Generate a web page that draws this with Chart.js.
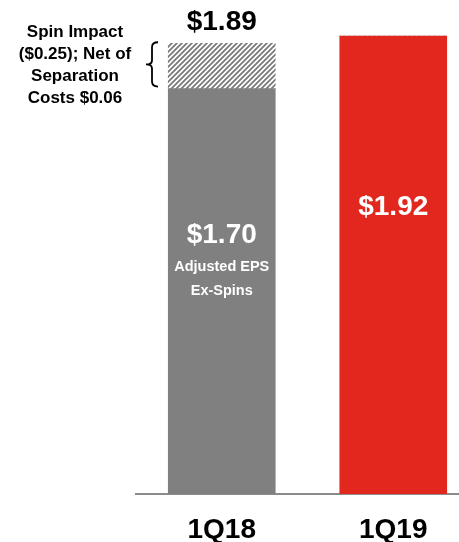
<!DOCTYPE html>
<html>
<head>
<meta charset="utf-8">
<script src="https://cdn.jsdelivr.net/npm/chart.js@4/dist/chart.umd.min.js"></script>
<style>
  html, body { margin:0; padding:0; overflow:hidden; background:#fff; }
  #wrap { width:480px; height:542px; }
</style>
</head>
<body>
<div id="wrap"><canvas id="eps"></canvas></div>
<script>
// values
var quarters = ["1Q18", "1Q19"];
var baseEps = [1.70, 1.92];
var spinNet = [0.19, 0];          // $0.25 spin impact net of $0.06 separation costs
var totalLabels = ["$1.89", ""];
var innerLabels = ["$1.70", "$1.92"];
var noteLines = ["Spin Impact", "($0.25); Net of", "Separation", "Costs $0.06"];
var subLines = ["Adjusted EPS", "Ex-Spins"];

var FONT = "'Liberation Sans', Arial, sans-serif";

function hatch() {
  var c = document.createElement("canvas");
  c.width = 5; c.height = 5;
  var g = c.getContext("2d");
  g.fillStyle = "#fff";
  g.fillRect(0, 0, 5, 5);
  g.strokeStyle = "#7a7a7a";
  g.lineWidth = 1.8;
  g.beginPath();
  g.moveTo(-1, 6); g.lineTo(6, -1);
  g.moveTo(-1, 1); g.lineTo(1, -1);
  g.moveTo(4, 6); g.lineTo(6, 4);
  g.stroke();
  return g.createPattern(c, "repeat");
}

var labelPlugin = {
  id: "labels",
  afterDatasetsDraw: function(chart) {
    var ctx = chart.ctx;
    var x = chart.scales.x, y = chart.scales.y;
    ctx.save();
    ctx.textAlign = "center";
    ctx.textBaseline = "middle";
    // totals above bars
    ctx.fillStyle = "#000";
    ctx.font = "bold 28px " + FONT;
    for (var i = 0; i < quarters.length; i++) {
      if (!totalLabels[i]) continue;
      ctx.fillText(totalLabels[i], x.getPixelForValue(i), y.getPixelForValue(baseEps[i] + spinNet[i]) - 21);
    }
    // values inside bars
    ctx.fillStyle = "#fff";
    ctx.fillText(innerLabels[0], x.getPixelForValue(0), 235);
    ctx.fillText(innerLabels[1], x.getPixelForValue(1), 207);
    ctx.font = "bold 14.5px " + FONT;
    for (var k = 0; k < subLines.length; k++) {
      ctx.fillText(subLines[k], x.getPixelForValue(0), 267 + k * 24);
    }
    // side note
    ctx.fillStyle = "#000";
    ctx.font = "bold 17px " + FONT;
    for (var j = 0; j < noteLines.length; j++) {
      ctx.fillText(noteLines[j], 75, 32 + j * 22);
    }
    // brace
    var top = y.getPixelForValue(baseEps[0] + spinNet[0]) - 1;
    var bot = y.getPixelForValue(baseEps[0]) - 2;
    var mid = (top + bot) / 2;
    ctx.strokeStyle = "#000";
    ctx.lineWidth = 1.8;
    ctx.beginPath();
    ctx.moveTo(158, top);
    ctx.quadraticCurveTo(152, top, 152, top + 5);
    ctx.lineTo(152, mid - 4);
    ctx.quadraticCurveTo(152, mid, 146, mid);
    ctx.quadraticCurveTo(152, mid, 152, mid + 4);
    ctx.lineTo(152, bot - 5);
    ctx.quadraticCurveTo(152, bot, 158, bot);
    ctx.stroke();
    ctx.restore();
  }
};

new Chart("eps", {
  type: "bar",
  data: {
    labels: quarters,
    datasets: [
      { data: baseEps, backgroundColor: ["#808080", "#e2281e"], stack: "s" },
      { data: spinNet, backgroundColor: hatch(), stack: "s" }
    ]
  },
  options: {
    responsive: true,
    maintainAspectRatio: false,
    animation: false,
    layout: { padding: { left: 136, right: 1, top: 17 } },
    plugins: { legend: { display: false }, tooltip: { enabled: false } },
    datasets: { bar: { barThickness: 107 } },
    scales: {
      x: {
        stacked: true,
        grid: { display: false },
        border: { display: true, color: "#8c8c8c", width: 2 },
        ticks: { color: "#000", padding: 11, font: { family: FONT, size: 28, weight: "bold" } },
        afterFit: function(s) { s.height = 48; }
      },
      y: { stacked: true, display: false, min: 0, max: 2.0 }
    }
  },
  plugins: [labelPlugin]
});
</script>
</body>
</html>
